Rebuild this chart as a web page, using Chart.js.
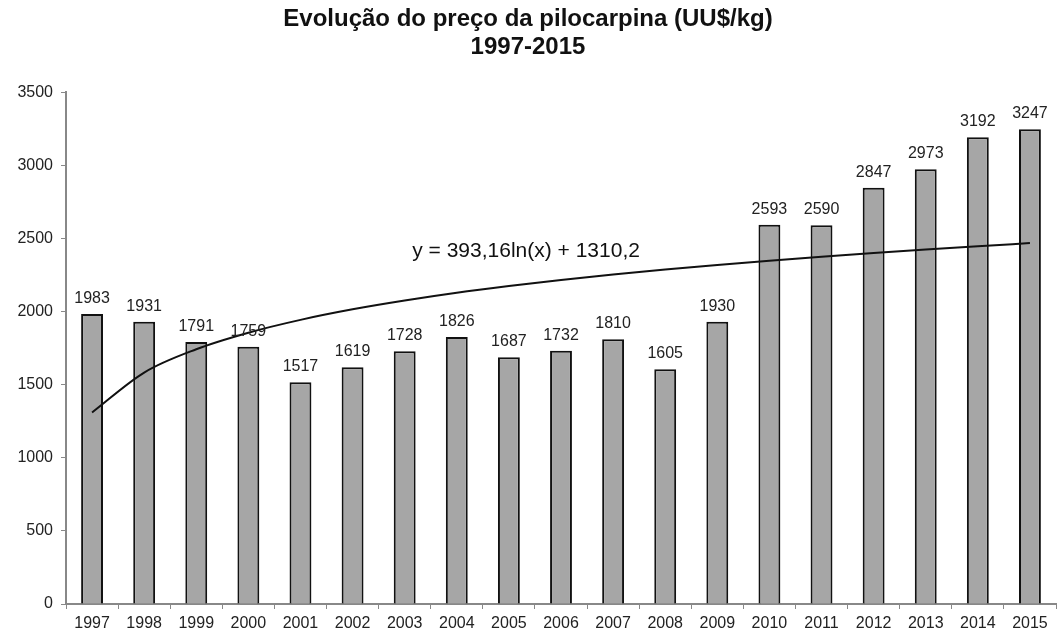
<!DOCTYPE html>
<html><head><meta charset="utf-8">
<script src="https://cdn.jsdelivr.net/npm/chart.js@4.4.0/dist/chart.umd.min.js"></script>
<style>html,body{margin:0;padding:0;background:#fff}#wrap{width:1058px;height:635px}</style>
</head><body><div id="wrap"><canvas id="c" width="1058" height="635"></canvas></div>
<script>
const categories = ['1997','1998','1999','2000','2001','2002','2003','2004','2005','2006','2007','2008','2009','2010','2011','2012','2013','2014','2015'];
const prices = [1983,1931,1791,1759,1517,1619,1728,1826,1687,1732,1810,1605,1930,2593,2590,2847,2973,3192,3247];
const trendValues = [1310,1583,1742,1855,1943,2015,2075,2128,2174,2216,2253,2287,2319,2348,2375,2400,2424,2447,2468];
const yTicks = [0,500,1000,1500,2000,2500,3000,3500];
const titleLines = ['Evolução do preço da pilocarpina (UU$/kg)','1997-2015'];
const equationText = 'y = 393,16ln(x) + 1310,2';

const FONT = '"Liberation Sans", Arial, sans-serif';

const labelPlugin = {
  id:'labels',
  afterDatasetsDraw(chart){
    const ctx = chart.ctx;
    const meta = chart.getDatasetMeta(1);
    ctx.save();
    ctx.font = '16px ' + FONT;
    ctx.fillStyle = '#222';
    ctx.textAlign = 'center';
    ctx.textBaseline = 'alphabetic';
    meta.data.forEach((bar,i)=>{
      ctx.fillText(String(prices[i]), bar.x, bar.y - 11);
    });
    const xs = chart.scales.x, ys = chart.scales.y;
    ctx.font = '21px ' + FONT;
    ctx.fillStyle = '#111';
    ctx.textBaseline = 'middle';
    ctx.fillText(equationText, xs.getPixelForValue(8.33), ys.getPixelForValue(2415));
    ctx.restore();
  }
};

new Chart(document.getElementById('c'), {
  data:{
    labels: categories,
    datasets:[
      {type:'line', data: trendValues, borderColor:'#111', borderWidth:2, pointRadius:0, fill:false, order:0, cubicInterpolationMode:'monotone'},
      {type:'bar', data: prices, backgroundColor:'#a6a6a6', borderColor:'#111', borderWidth:2, categoryPercentage:1, barPercentage:0.42, order:1}
    ]
  },
  options:{
    responsive:false, animation:false,
    layout:{padding:{left:0,right:2,top:0,bottom:0}},
    plugins:{
      legend:{display:false}, tooltip:{enabled:false},
      title:{display:true, text:titleLines, color:'#111', font:{family:FONT, size:24, weight:'bold', lineHeight:1.15}, padding:{top:6,bottom:31}}
    },
    scales:{
      x:{
        offset:true,
        afterFit(s){ s.height = 31; },
        grid:{display:true, drawOnChartArea:false, drawTicks:true, tickLength:5, color:'#888', offset:true},
        border:{display:true, color:'#888', width:2},
        ticks:{color:'#222', font:{family:FONT, size:16}, padding:5, maxRotation:0, autoSkip:false}
      },
      y:{
        min:0, max:3500,
        afterBuildTicks(s){ s.ticks = yTicks.map(v=>({value:v})); },
        afterFit(s){ s.width = 66; },
        grid:{display:true, drawOnChartArea:false, drawTicks:true, tickLength:5, color:'#888'},
        border:{display:true, color:'#888', width:2},
        ticks:{color:'#222', font:{family:FONT, size:16}, padding:8, callback:(v)=>String(v)}
      }
    }
  },
  plugins:[labelPlugin]
});
</script></body></html>
